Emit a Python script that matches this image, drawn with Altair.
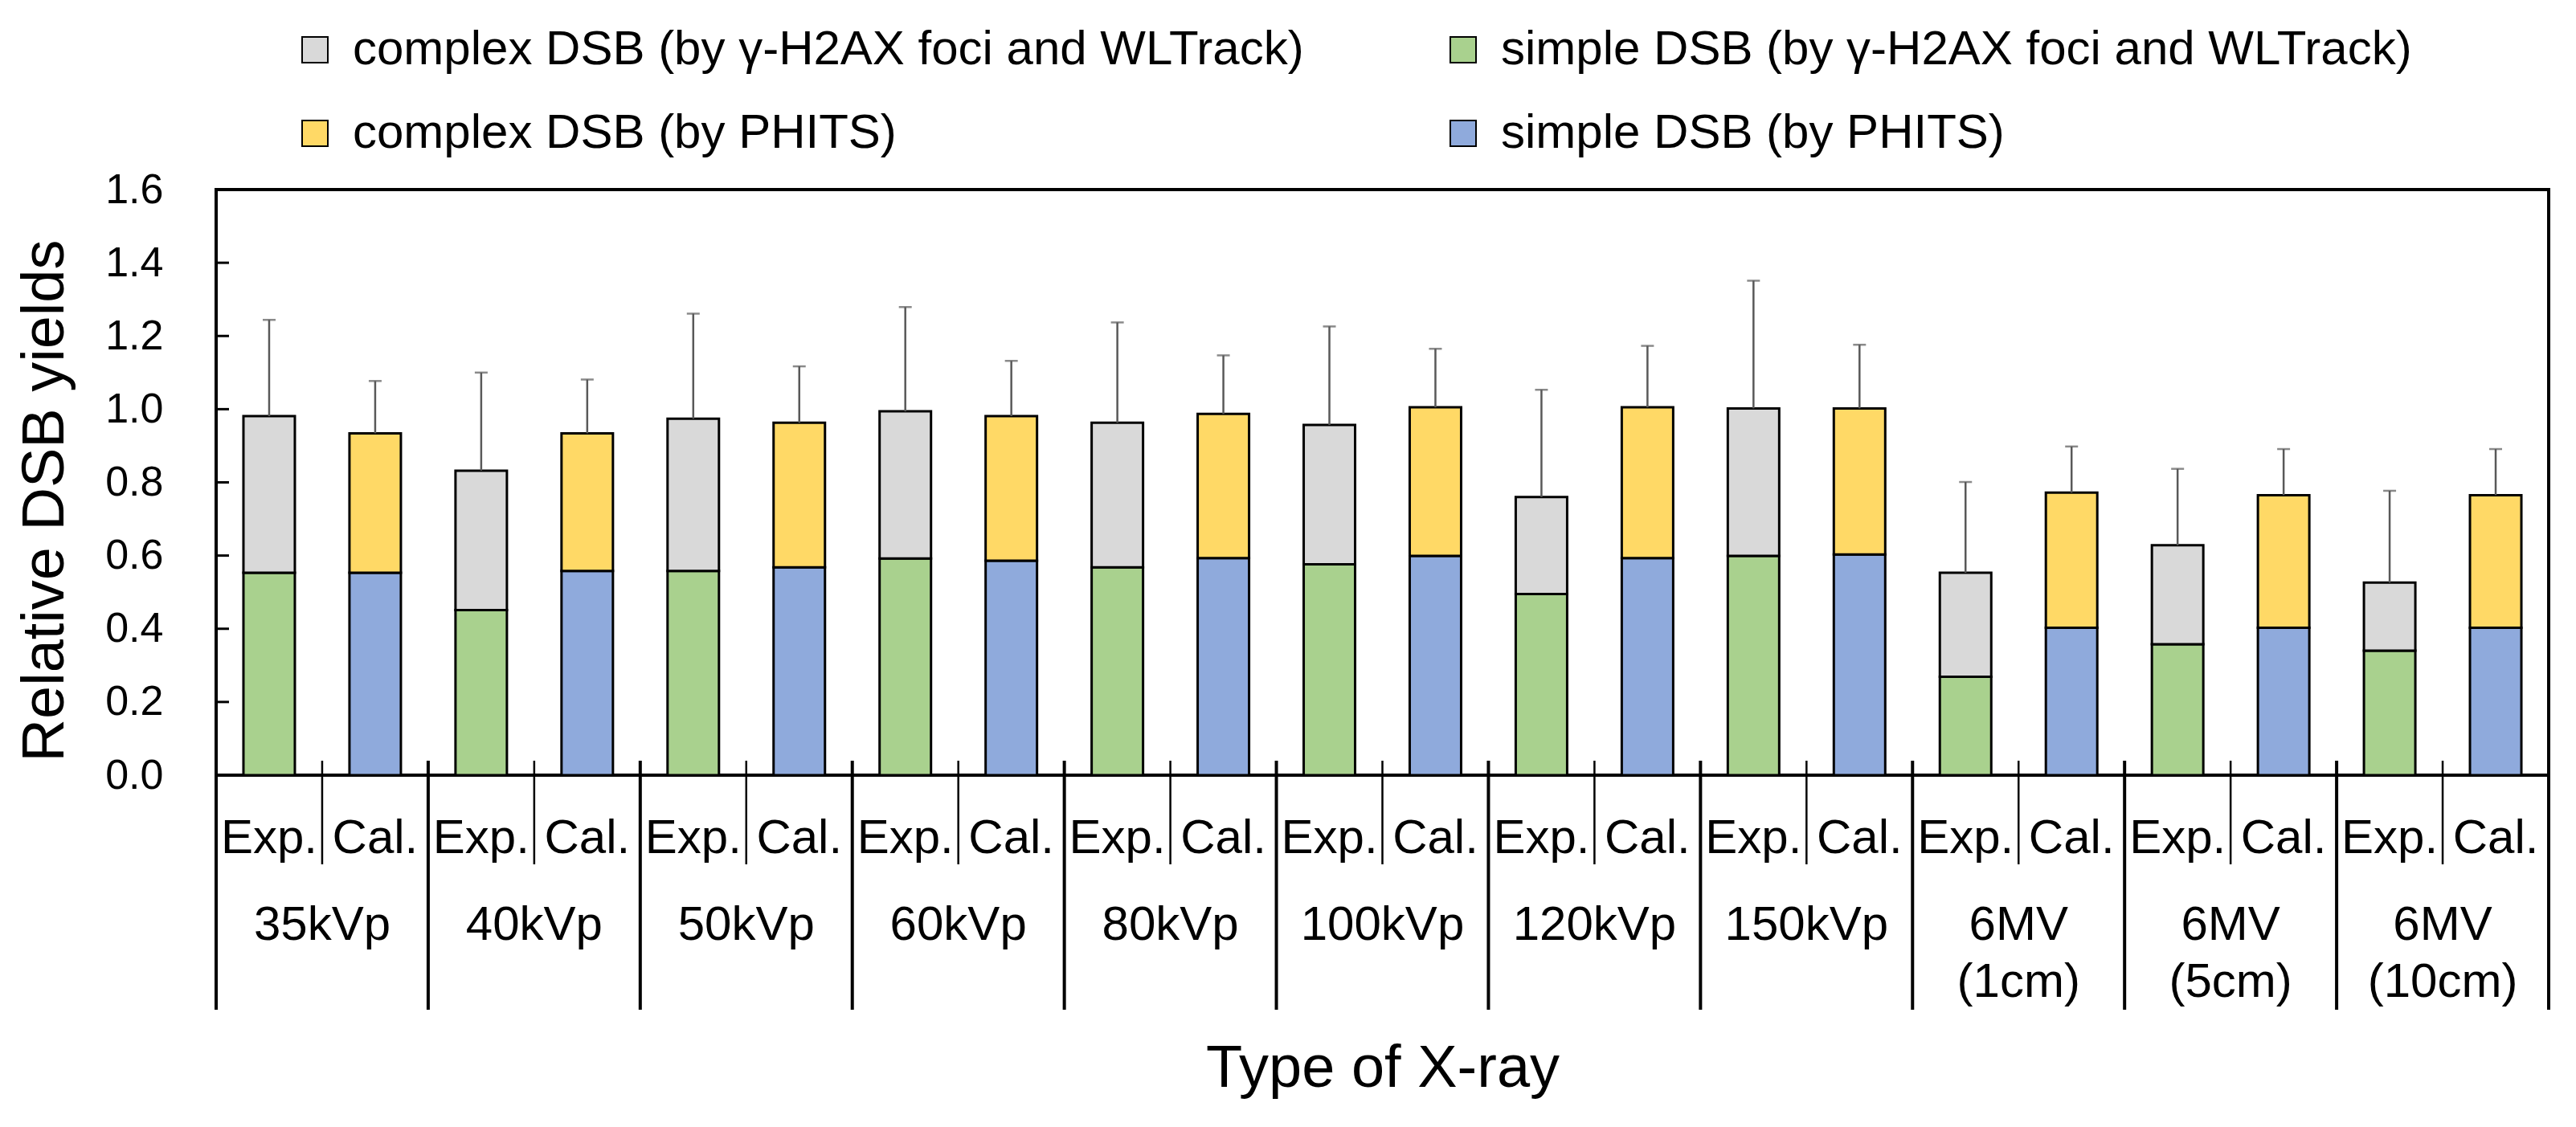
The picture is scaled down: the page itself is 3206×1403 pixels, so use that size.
import altair as alt
import pandas as pd

# x-ray types (groups) and the two bars in each group
groups = ["35kVp", "40kVp", "50kVp", "60kVp", "80kVp", "100kVp", "120kVp",
          "150kVp", "6MV\n(1cm)", "6MV\n(5cm)", "6MV\n(10cm)"]
kinds = ["Exp.", "Cal."]

# experiment (gamma-H2AX foci and WLTrack)
exp_simple = [0.553, 0.451, 0.558, 0.592, 0.568, 0.576, 0.495, 0.599, 0.269, 0.358, 0.340]
exp_complex = [0.428, 0.381, 0.416, 0.402, 0.395, 0.381, 0.265, 0.403, 0.284, 0.270, 0.186]
exp_err = [0.263, 0.268, 0.287, 0.285, 0.274, 0.269, 0.293, 0.349, 0.248, 0.209, 0.251]

# calculation (PHITS)
cal_simple = [0.553, 0.558, 0.568, 0.586, 0.593, 0.599, 0.593, 0.603, 0.403, 0.403, 0.403]
cal_complex = [0.381, 0.376, 0.395, 0.395, 0.394, 0.406, 0.412, 0.399, 0.369, 0.362, 0.362]
cal_err = [0.143, 0.147, 0.154, 0.151, 0.160, 0.160, 0.168, 0.174, 0.126, 0.126, 0.126]

# legend order: first column = complex, second column = simple
series = ["complex DSB (by γ-H2AX foci and WLTrack)",
          "complex DSB (by PHITS)",
          "simple DSB (by γ-H2AX foci and WLTrack)",
          "simple DSB (by PHITS)"]
colors = ["#D9D9D9", "#FFD966", "#A9D18E", "#8FAADC"]
y_ticks = [0.0, 0.2, 0.4, 0.6, 0.8, 1.0, 1.2, 1.4, 1.6]

W, H = 2903, 729
FONT = "Liberation Sans"

rows, errs = [], []
for i, g in enumerate(groups):
    rows += [
        dict(group=g, kind="Exp.", series=series[2], ord=0, value=exp_simple[i]),
        dict(group=g, kind="Exp.", series=series[0], ord=1, value=exp_complex[i]),
        dict(group=g, kind="Cal.", series=series[3], ord=0, value=cal_simple[i]),
        dict(group=g, kind="Cal.", series=series[1], ord=1, value=cal_complex[i]),
    ]
    errs += [
        dict(group=g, kind="Exp.", total=exp_simple[i] + exp_complex[i], err=exp_err[i]),
        dict(group=g, kind="Cal.", total=cal_simple[i] + cal_complex[i], err=cal_err[i]),
    ]
bars = pd.DataFrame(rows)
errdf = pd.DataFrame(errs)
errdf["top"] = errdf["total"] + errdf["err"]
labels = pd.DataFrame([dict(group=g, kind=k) for g in groups for k in kinds])
grp = pd.DataFrame({"group": groups})
ticks = pd.DataFrame({"tick": y_ticks[1:-1]})

x_axis = alt.Axis(title="Type of X-ray", labelExpr="split(datum.label, '\\n')",
                  labelFontSize=60, labelLineHeight=71, labelPadding=204,
                  labelBaseline="alphabetic", labelAngle=0, labelLimit=600,
                  ticks=False, domain=False, titleFontSize=74,
                  titleFontWeight="normal", titleY=387, titleBaseline="alphabetic")


def xenc(band=0.5):
    return alt.X("group:N", sort=groups, bandPosition=band, title="Type of X-ray",
                 scale=alt.Scale(domain=groups, paddingInner=0, paddingOuter=0),
                 axis=x_axis)


xoff = alt.XOffset("kind:N", sort=kinds,
                   scale=alt.Scale(domain=kinds, paddingInner=0.515, paddingOuter=0.2575))
yscale = alt.Scale(domain=[0, 1.6], nice=False)
y_axis = alt.Axis(values=y_ticks, format=".1f", grid=False, ticks=False, domain=False,
                  labelFontSize=52, labelPadding=66, titleFontSize=74,
                  titleFontWeight="normal", titleX=-191, titleY=387, titleAngle=270,
                  titleBaseline="alphabetic", titleAlign="center")
YT = "Relative DSB yields"

stack = alt.Chart(bars).mark_bar(stroke="black", strokeWidth=3).encode(
    x=xenc(), xOffset=xoff,
    y=alt.Y("value:Q", stack="zero", scale=yscale, axis=y_axis, title=YT),
    color=alt.Color("series:N", scale=alt.Scale(domain=series, range=colors),
                    legend=alt.Legend(title=None, orient="none", legendX=93, legendY=-204,
                                      columns=2, columnPadding=168, rowPadding=44,
                                      labelFontSize=60, symbolSize=1024, symbolType="square",
                                      symbolStrokeColor="black", symbolStrokeWidth=2,
                                      labelOffset=17, padding=0, labelLimit=2000,
                                      symbolOpacity=1)),
    order=alt.Order("ord:Q"),
)

err_line = alt.Chart(errdf).mark_rule(color="#595959", strokeWidth=2.5).encode(
    x=xenc(), xOffset=xoff,
    y=alt.Y("total:Q", scale=yscale, axis=y_axis, title=YT), y2="top:Q")
err_cap = alt.Chart(errdf).mark_tick(color="#595959", thickness=2.5, size=16,
                                     orient="horizontal").encode(
    x=xenc(), xOffset=xoff, y=alt.Y("top:Q", scale=yscale, axis=y_axis, title=YT))

inner_ticks = alt.Chart(ticks).mark_rule(color="black", strokeWidth=3).encode(
    y=alt.Y("tick:Q", scale=yscale, axis=y_axis, title=YT),
    x=alt.value(0), x2=alt.value(16))

kind_text = alt.Chart(labels).mark_text(fontSize=60, font=FONT, baseline="alphabetic",
                                        align="center", color="black").encode(
    x=xenc(), xOffset=xoff, y=alt.value(H + 97), text="kind:N")

mid_sep = alt.Chart(grp).mark_rule(color="black", strokeWidth=2.5).encode(
    x=xenc(0.5), y=alt.value(H - 18), y2=alt.value(H + 111))
grp_sep = alt.Chart(grp).mark_rule(color="black", strokeWidth=4).encode(
    x=xenc(0), y=alt.value(H - 18), y2=alt.value(H + 292))
end_sep = alt.Chart(grp.tail(1)).mark_rule(color="black", strokeWidth=4).encode(
    x=xenc(1), y=alt.value(H - 18), y2=alt.value(H + 292))

chart = alt.layer(
    stack, err_line, err_cap, inner_ticks, kind_text, mid_sep, grp_sep, end_sep
).properties(
    width=W, height=H,
    autosize=alt.AutoSizeParams(type="none"),
    padding={"left": 261, "top": 228, "right": 26, "bottom": 430},
    background="white",
).configure_view(
    stroke="black", strokeWidth=4
).configure_axis(
    labelFont=FONT, titleFont=FONT, labelColor="black", titleColor="black"
).configure_legend(
    labelFont=FONT, labelColor="black"
)

chart.save("out.html", embed_options={"renderer": "svg", "actions": False})
